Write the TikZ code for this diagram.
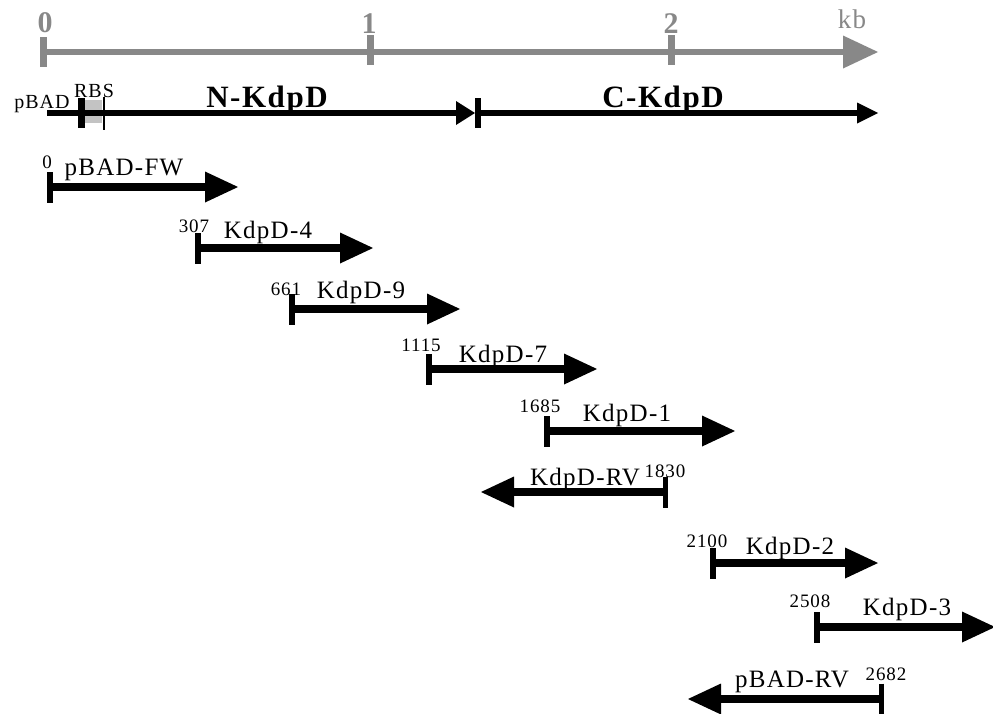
\documentclass[tikz,border=0pt]{standalone}
\usepackage{fontspec}
\setmainfont{Liberation Serif}
\newfontfamily\spaced[LetterSpace=5]{Liberation Serif}
\usetikzlibrary{arrows.meta}
\definecolor{scalegray}{RGB}{136,136,136}
\definecolor{rbsgray}{RGB}{195,195,195}

\begin{document}
\begin{tikzpicture}[x=1pt,y=-1pt,
  primer/.style={line width=7.5pt,
    {Bar[width=31pt,line width=5.5pt]}-{Triangle[length=33pt,width=31pt,line width=0pt]}},
  tickmark/.style={line width=#1},
  lbl/.style={anchor=base,inner sep=0pt,font=\spaced\fontsize{25}{28}\selectfont},
  num/.style={anchor=base,inner sep=0pt,font=\spaced\fontsize{19}{21}\selectfont},
  scalelbl/.style={anchor=base,inner sep=0pt,text=scalegray,
    font=\spaced\bfseries\fontsize{30}{32}\selectfont}]
\useasboundingbox (0,0) rectangle (993,713);

\coordinate (s0) at (40,52);
\coordinate (s1) at (878,52);
\draw [scalegray, line width=6.5pt, -{Triangle[length=35pt,width=33pt,line width=0pt]}] (s0) -- (s1);
\draw [scalegray, tickmark=7pt] (43.5,37) -- (43.5,67);
\draw [scalegray, tickmark=7pt] (370,35) -- (370,65);
\draw [scalegray, tickmark=7pt] (671,35) -- (671,65);
\node [scalelbl] (t0) at (45,32) {0};
\node [scalelbl] (t1) at (369,33) {1};
\node [scalelbl] (t2) at (671,33) {2};
\node [scalelbl, font=\spaced\fontsize{27}{29}\selectfont] (tkb) at (852,28) {kb};

\coordinate (g0) at (47,113);
\coordinate (g1) at (475,113);
\coordinate (g2) at (478,113);
\coordinate (g3) at (878,113);
\fill [rbsgray] (85,100) rectangle (102,123);
\draw [line width=5.5pt, -{Triangle[length=19pt,width=24pt,line width=0pt]}] (g0) -- (g1);
\draw [line width=5.5pt, -{Triangle[length=21pt,width=21pt,line width=0pt]}] (g2) -- (g3);
\draw [tickmark=7pt] (81.5,98) -- (81.5,128);
\draw [tickmark=2pt] (104,97) -- (104,130);
\draw [tickmark=5.5pt] (g2) ++(0,-15) -- ++(0,30);
\node [lbl, font=\spaced\fontsize{20}{22}\selectfont] (pbad) at (42,108) {pBAD};
\node [lbl, font=\spaced\fontsize{20}{22}\selectfont] (rbs) at (94,97) {RBS};
\node [lbl, font=\spaced\bfseries\fontsize{31}{33}\selectfont] (nkdpd) at (267,107) {N-KdpD};
\node [lbl, font=\spaced\bfseries\fontsize{31}{33}\selectfont] (ckdpd) at (663,107) {C-KdpD};

\coordinate (fw0) at (47,187);   \coordinate (fw1) at (238,187);
\coordinate (k40) at (195,248);  \coordinate (k41) at (373,248);
\coordinate (k90) at (289,309);  \coordinate (k91) at (460,309);
\coordinate (k70) at (426,369);  \coordinate (k71) at (597,369);
\coordinate (k10) at (544,431);  \coordinate (k11) at (735,431);
\coordinate (rv0) at (668,492);  \coordinate (rv1) at (481,492);
\coordinate (k20) at (710,563);  \coordinate (k21) at (878,563);
\coordinate (k30) at (814,627);  \coordinate (k31) at (995,627);
\coordinate (bv0) at (884,699);  \coordinate (bv1) at (688,699);

\draw [primer] (fw0) -- (fw1);
\draw [primer] (k40) -- (k41);
\draw [primer] (k90) -- (k91);
\draw [primer] (k70) -- (k71);
\draw [primer] (k10) -- (k11);
\draw [primer] (rv0) -- (rv1);
\draw [primer] (k20) -- (k21);
\draw [primer] (k30) -- (k31);
\draw [primer] (bv0) -- (bv1);

\node [lbl] (lfw) at (124,175) {pBAD-FW};
\node [num] (nfw) at (47,168) {0};
\node [lbl] (lk4) at (268,238) {KdpD-4};
\node [num] (nk4) at (194,232) {307};
\node [lbl] (lk9) at (361,298) {KdpD-9};
\node [num] (nk9) at (286,295) {661};
\node [lbl] (lk7) at (503,362) {KdpD-7};
\node [num] (nk7) at (421,351) {1115};
\node [lbl] (lk1) at (627,421) {KdpD-1};
\node [num] (nk1) at (540,412) {1685};
\node [lbl] (lrv) at (585,485) {KdpD-RV};
\node [num] (nrv) at (665,477) {1830};
\node [lbl] (lk2) at (790,554) {KdpD-2};
\node [num] (nk2) at (707,547) {2100};
\node [lbl] (lk3) at (907,615) {KdpD-3};
\node [num] (nk3) at (810,607) {2508};
\node [lbl] (lbv) at (792,687) {pBAD-RV};
\node [num] (nbv) at (886,680) {2682};

\end{tikzpicture}
\end{document}
